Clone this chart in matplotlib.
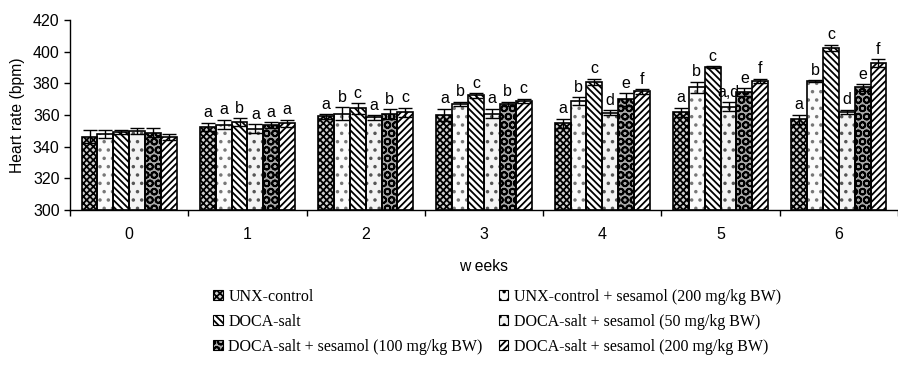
import numpy as np
import matplotlib.pyplot as plt
from matplotlib.patches import Patch

weeks = ['0', '1', '2', '3', '4', '5', '6']
groups = ['UNX-control',
          'UNX-control + sesamol (200 mg/kg BW)',
          'DOCA-salt',
          'DOCA-salt + sesamol (50 mg/kg BW)',
          'DOCA-salt + sesamol (100 mg/kg BW)',
          'DOCA-salt + sesamol (200 mg/kg BW)']

# mean heart rate per group, one list per group (weeks 0..6)
unx_ctrl = [346.3, 352.6, 359.2, 360.0, 354.7, 361.7, 357.3]
unx_ses200 = [347.8, 354.0, 361.0, 367.0, 369.0, 377.5, 381.3]
doca = [349.3, 355.6, 364.2, 372.4, 381.0, 390.1, 402.5]
doca_ses50 = [350.0, 351.4, 358.5, 361.0, 361.5, 365.3, 362.0]
doca_ses100 = [349.0, 353.7, 360.6, 367.0, 370.0, 374.3, 377.5]
doca_ses200 = [346.0, 354.7, 361.7, 368.9, 375.0, 381.5, 392.6]

unx_ctrl_err = [4.0, 2.5, 1.5, 4.0, 3.0, 3.0, 3.0]
unx_ses200_err = [2.5, 3.0, 4.0, 1.5, 2.5, 3.5, 0.7]
doca_err = [1.0, 2.5, 3.5, 1.5, 2.0, 0.6, 2.0]
doca_ses50_err = [2.0, 3.0, 1.5, 3.0, 1.5, 3.0, 1.5]
doca_ses100_err = [3.0, 2.0, 3.0, 1.5, 4.0, 2.5, 2.0]
doca_ses200_err = [2.0, 2.5, 3.0, 1.5, 1.5, 1.5, 2.5]

letters_unx_ctrl = ['', 'a', 'a', 'a', 'a', 'a', 'a']
letters_unx_ses200 = ['', 'a', 'b', 'b', 'b', 'b', 'b']
letters_doca = ['', 'b', 'c', 'c', 'c', 'c', 'c']
letters_doca_ses50 = ['', 'a', 'a', 'a', 'd', 'a,d', 'd']
letters_doca_ses100 = ['', 'a', 'b', 'b', 'e', 'e', 'e']
letters_doca_ses200 = ['', 'a', 'c', 'c', 'f', 'f', 'f']

means = [unx_ctrl, unx_ses200, doca, doca_ses50, doca_ses100, doca_ses200]
errs = [unx_ctrl_err, unx_ses200_err, doca_err, doca_ses50_err, doca_ses100_err, doca_ses200_err]
letters = [letters_unx_ctrl, letters_unx_ses200, letters_doca,
           letters_doca_ses50, letters_doca_ses100, letters_doca_ses200]

# look of each group: face colour, hatch, hatch colour
styles = [('#d0d0d0', 'xxxxx', 'black'),
          ('#fbfbfb', '..', '#777777'),
          ('white', '\\\\\\\\\\', 'black'),
          ('#f3f3f3', '..', '#555555'),
          ('#a8a8a8', 'OO', 'black'),
          ('white', '/////', 'black')]

plt.rcParams['font.family'] = 'Liberation Sans'
plt.rcParams['hatch.linewidth'] = 1.3

fig = plt.figure(figsize=(8.98, 3.78), dpi=100)
ax = fig.add_axes([0.078, 0.444, 0.922, 0.503])

x = np.arange(len(weeks))
w = 0.134
offsets = (np.arange(6) - 2.5) * w
handles = []
for i in range(6):
    fc, hatch, hc = styles[i]
    ax.bar(x + offsets[i], np.array(means[i]) - 300, w, bottom=300,
           color=fc, edgecolor=hc, hatch=hatch, linewidth=0, zorder=2)
    ax.bar(x + offsets[i], np.array(means[i]) - 300, w, bottom=300,
           fill=False, edgecolor='black', linewidth=1.2, zorder=3)
    ax.errorbar(x + offsets[i], means[i], yerr=errs[i], fmt='none',
                ecolor='black', elinewidth=1.0, capsize=5, capthick=1.0, zorder=4)
    for j in range(len(weeks)):
        if letters[i][j]:
            ax.text(x[j] + offsets[i], means[i][j] + errs[i][j] + 1.5, letters[i][j],
                    ha='center', va='bottom', fontsize=11.5)
    handles.append(Patch(facecolor=fc, edgecolor='black', hatch=hatch, linewidth=0.8))

ax.set_ylim(300, 420)
ax.set_yticks(range(300, 421, 20))
ax.set_xlim(-0.5, 6.42)
ax.set_xticks(x)
ax.set_xticklabels(weeks)
ax.set_xticks(np.arange(-0.5, 7, 1), minor=True)
ax.tick_params(axis='x', which='major', length=0, labelsize=11.5, pad=12)
ax.tick_params(axis='x', which='minor', length=4, direction='out', width=1)
ax.tick_params(axis='y', length=4, width=1, labelsize=11.5)
for s in ['top', 'right']:
    ax.spines[s].set_visible(False)
ax.spines['left'].set_linewidth(1)
ax.spines['bottom'].set_linewidth(1)
ax.set_ylabel('Heart rate (bpm)', fontsize=11.3, labelpad=6)
ax.set_xlabel('w eeks', fontsize=11.3, labelpad=12)

# legend, filled row by row
order = [0, 2, 4, 1, 3, 5]
fig.legend([handles[k] for k in order], [groups[k] for k in order],
           loc='upper left', bbox_to_anchor=(0.2375, 0.236), ncol=2,
           frameon=False, prop={'family': 'Liberation Serif', 'size': 11.5},
           handlelength=0.6, handleheight=0.6, handletextpad=0.35,
           columnspacing=1.0, labelspacing=0.56, borderpad=0, borderaxespad=0)

fig.savefig('out.png', dpi=100)
